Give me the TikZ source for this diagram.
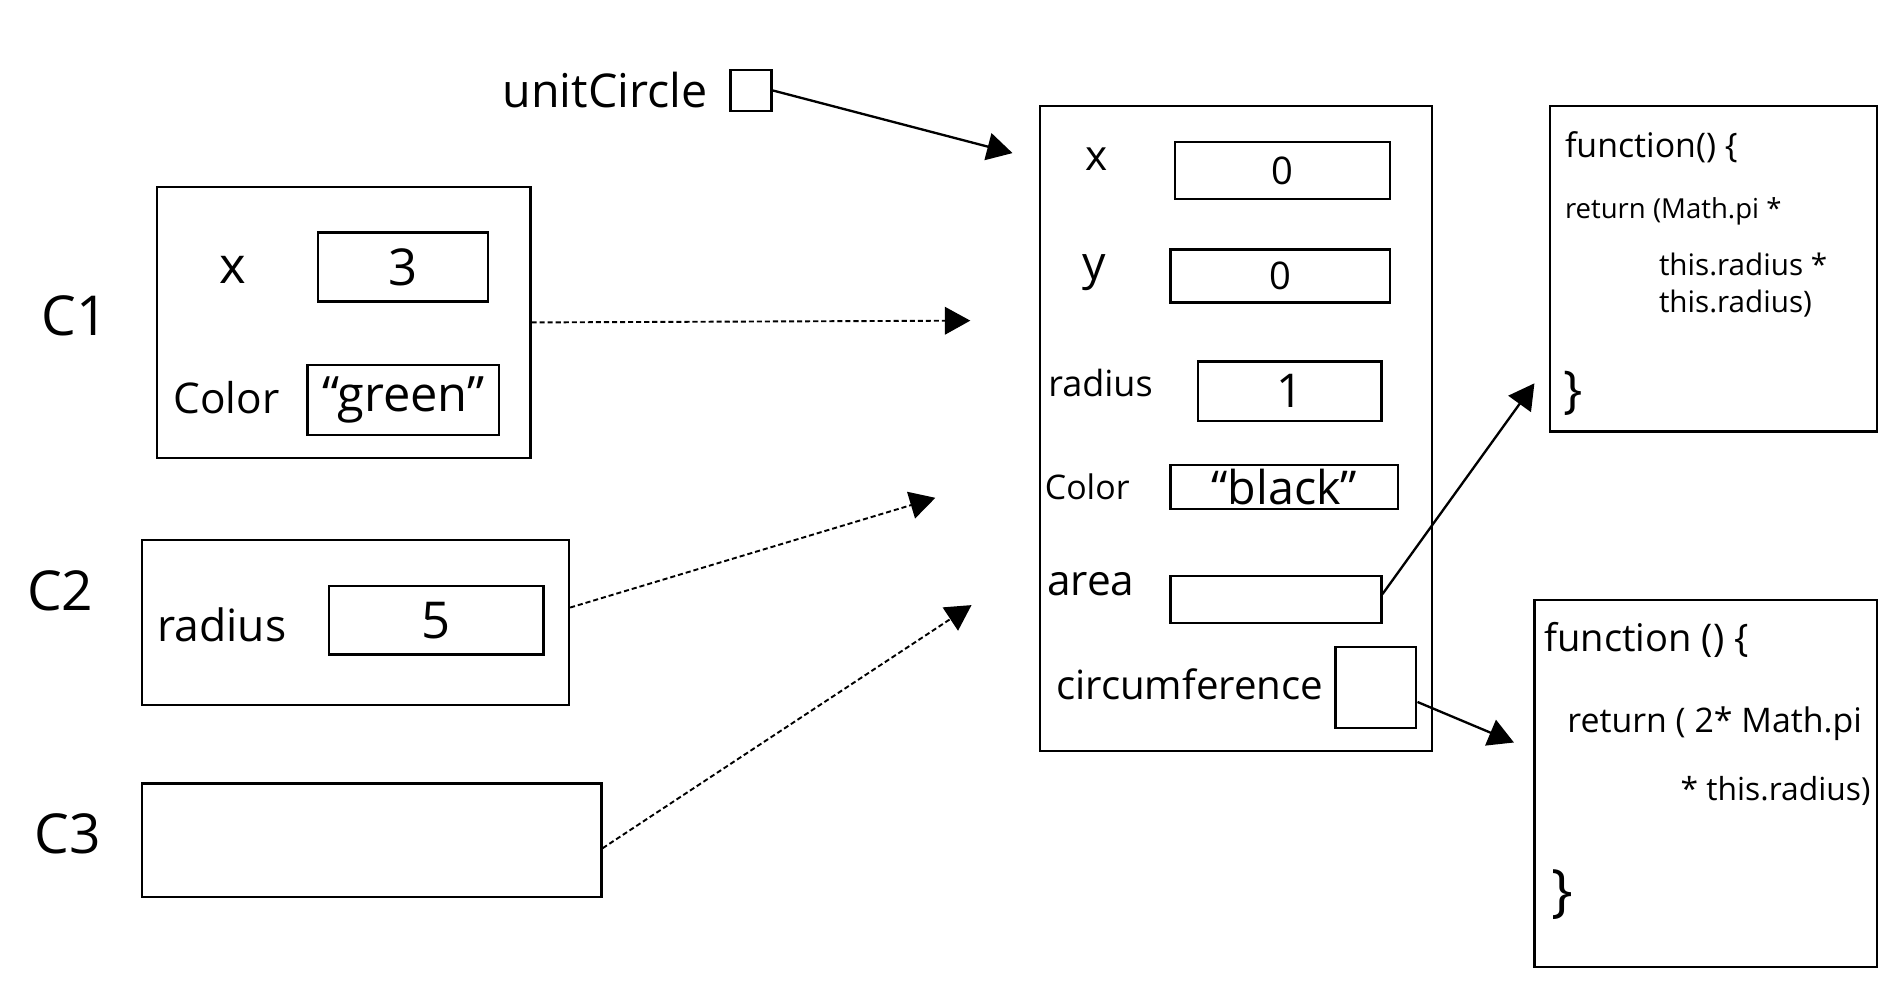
\documentclass[tikz,border=0pt]{standalone}
\usepackage{fontspec}
\setmainfont{Open Sans}
\usetikzlibrary{arrows.meta,fit}
\begin{document}
\begin{tikzpicture}[x=0.02cm,y=-0.02cm,
  box/.style={draw, line width=1.1pt, inner sep=0pt},
  lbl/.style={inner sep=0pt},
  fs/.style={font=\fontsize{#1}{#1}\selectfont},
  arr/.style={line width=1.1pt, -{Triangle[length=12pt,width=13pt]}},
  darr/.style={line width=0.9pt, dash pattern=on 2.4pt off 1.4pt, -{Triangle[length=12pt,width=13pt]}}
]
\useasboundingbox (0,0) rectangle (1568,825);

% unitCircle reference
\node[lbl, fs=22pt] (uclbl) at (502,75) {unitCircle};
\node[box, fit={(606,58) (640,92)}] (uc) {};

% unitCircle object
\node[box, fit={(863,88) (1188,623)}] (obj) {};
\node[lbl, fs=20pt] (ox) at (910,132) {x};
\node[box, fit={(975,118) (1153,165)}] (oxv) {};
\node[lbl, fs=18pt] (oxt) at (oxv.center) {0};
\node[lbl, fs=22pt] (oy) at (908,226) {y};
\node[box, fit={(971,207) (1153,251)}] (oyv) {};
\node[lbl, fs=18pt] (oyt) at (oyv.center) {0};
\node[lbl, fs=17pt] (or) at (913,318) {radius};
\node[box, fit={(994,300) (1146,349)}] (orv) {};
\node[lbl, fs=22pt] (ort) at (orv.center) {1};
\node[lbl, fs=16pt] (oc) at (902,404) {Color};
\node[box, fit={(971,386) (1160,422)}] (ocv) {};
\node[lbl, fs=22pt] (oct) at (ocv.center) {“black”};
\node[lbl, fs=20pt] (oa) at (905,485) {area};
\node[box, fit={(971,478) (1146,517)}] (oav) {};
\node[lbl, fs=19pt] (oci) at (987,568) {circumference};
\node[box, fit={(1108,537) (1175,604)}] (ociv) {};

% function boxes
\node[box, fit={(1286,88) (1557,358)}] (f1) {};
\node[lbl, fs=16pt, anchor=west] (f1a) at (1298,122) {function() \{};
\node[lbl, fs=13pt, anchor=west] (f1b) at (1298,175) {return (Math.pi *};
\node[lbl, fs=14pt, anchor=west] (f1c) at (1376,219) {this.radius *};
\node[lbl, fs=14pt, anchor=west] (f1d) at (1376,252) {this.radius)};
\node[lbl, fs=24pt, anchor=west] (f1e) at (1297,326) {\}};

\node[box, fit={(1273,498) (1557,802)}] (f2) {};
\node[lbl, fs=18pt, anchor=west] (f2a) at (1281,531) {function () \{};
\node[lbl, fs=16pt, anchor=west] (f2b) at (1300,600) {return ( 2* Math.pi};
\node[lbl, fs=15pt, anchor=west] (f2c) at (1394,656) {* this.radius)};
\node[lbl, fs=27pt, anchor=west] (f2d) at (1287,742) {\}};

% c1
\node[lbl, fs=26pt] (c1l) at (62,262) {C1};
\node[box, fit={(130,155) (440,380)}] (c1) {};
\node[lbl, fs=24pt] (c1x) at (193,224) {x};
\node[box, fit={(264,193) (405,250)}] (c1xv) {};
\node[lbl, fs=24pt] (c1xt) at (c1xv.center) {3};
\node[lbl, fs=20pt] (c1c) at (188,330) {Color};
\node[box, fit={(255,303) (414,361)}] (c1cv) {};
\node[lbl, fs=23pt] (c1ct) at (c1cv.center) {“green”};

% c2
\node[lbl, fs=26pt] (c2l) at (50,490) {C2};
\node[box, fit={(118,448) (472,585)}] (c2) {};
\node[lbl, fs=21pt] (c2r) at (184,518) {radius};
\node[box, fit={(273,486) (451,543)}] (c2rv) {};
\node[lbl, fs=24pt] (c2rt) at (c2rv.center) {5};

% c3
\node[lbl, fs=26pt] (c3l) at (56,692) {C3};
\node[box, fit={(118,650) (499,744)}] (c3) {};

% arrow ends
\coordinate (ucend) at (840,127);
\coordinate (c1end) at (805,266);
\coordinate (c2end) at (776,413);
\coordinate (c3end) at (806,502);
\coordinate (aend) at (1273,318);
\coordinate (cend) at (1256,616);

\draw[arr] (uc.east) -- (ucend);
\draw[darr] (c1.east) -- (c1end);
\draw[darr] (c2.4) -- (c2end);
\draw[darr] (c3.-2) -- (c3end);
\draw[arr] (oav.3) -- (aend);
\draw[arr] (ociv.-19) -- (cend);
\end{tikzpicture}
\end{document}
